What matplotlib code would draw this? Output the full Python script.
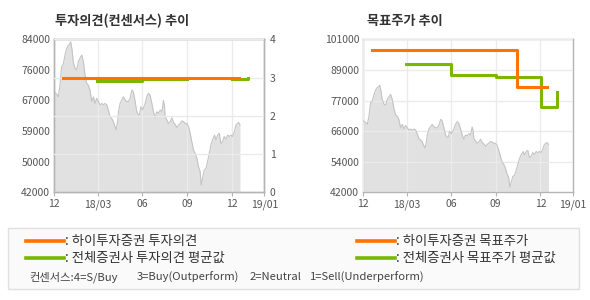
import numpy as np
import matplotlib
matplotlib.use('Agg')
import matplotlib.pyplot as plt
from matplotlib.lines import Line2D
from matplotlib.patches import Rectangle

plt.rcParams['font.family'] = ['Noto Sans CJK KR', 'DejaVu Sans']

W, H = 590, 300
ORANGE = '#ff7300'
GREEN = '#7ab800'

# x values are months counted from 2017-12-01
price_month = [0.09, 0.25, 0.36, 0.47, 0.58, 0.69, 0.81, 0.92, 1.03, 1.10, 1.19, 1.28,
               1.36, 1.48, 1.59, 1.70, 1.81, 1.93, 2.04, 2.15, 2.26, 2.37, 2.48, 2.60,
               2.71, 2.82, 2.93, 3.04, 3.16, 3.27, 3.38, 3.49, 3.61, 3.71, 3.83, 3.94,
               4.05, 4.16, 4.23, 4.32, 4.39, 4.50, 4.61, 4.72, 4.84, 4.95, 5.06, 5.17,
               5.29, 5.39, 5.51, 5.62, 5.73, 5.80, 5.89, 6.02, 6.18, 6.29, 6.40, 6.51,
               6.63, 6.74, 6.85, 6.96, 7.07, 7.19, 7.30, 7.41, 7.48, 7.52, 7.64, 7.74,
               7.86, 7.97, 8.08, 8.19, 8.31, 8.42, 8.53, 8.64, 8.75, 8.87, 8.98, 9.09,
               9.20, 9.31, 9.42, 9.54, 9.65, 9.76, 9.87, 9.94, 10.03, 10.14, 10.26, 10.39,
               10.48, 10.59, 10.70, 10.83, 10.93, 11.04, 11.15, 11.26, 11.37, 11.48, 11.60,
               11.71, 11.82, 11.93, 12.04, 12.16, 12.27, 12.38, 12.44, 12.54]
price = [69600, 68900, 68200, 71400, 76500, 77100, 79700, 81500, 82400, 82600, 83300, 81100,
         77800, 76000, 75600, 77800, 78800, 79700, 77800, 74200, 71900, 71400, 70100, 66900,
         68200, 66400, 67800, 66900, 66000, 66400, 66000, 66400, 66000, 64600, 62700, 62300,
         61400, 60000, 59100, 60900, 64100, 66400, 67300, 68200, 67300, 66900, 66900, 67800,
         70100, 69600, 66900, 64100, 63200, 63200, 65500, 64600, 66400, 68200, 69200, 68700,
         66400, 64100, 62500, 64100, 63700, 64600, 64100, 67200, 65500, 62700, 61800, 60900,
         61400, 62500, 61200, 60700, 59700, 60500, 60900, 61600, 61400, 60900, 60900, 60000,
         58200, 55900, 53600, 52700, 51300, 49000, 47700, 44000, 45800, 48100, 48600, 50900,
         52700, 55000, 56400, 57700, 56400, 57700, 58200, 55400, 55900, 57300, 56600,
         57700, 57300, 57700, 57300, 58600, 60500, 60900, 61200, 60500]

x_ticks = [0.09, 3, 6, 9, 12, 14.17]
x_labels = ['12', '18/03', '06', '09', '12', '19/01']

opinion_price_labels = ['42000', '50000', '59000', '67000', '76000', '84000']
opinion_scale = [0, 1, 2, 3, 4]
target_labels = ['42000', '54000', '66000', '77000', '89000', '101000']

hi_opinion_month = [0.69, 12.46]
hi_opinion = [3.0, 3.0]
avg_opinion_month = [2.98, 5.98, 9.02, 12.0, 13.1]
avg_opinion = [2.91, 2.95, np.nan, 2.95, 3.0]

hi_target_month = [0.69, 10.41, 12.44]
hi_target = [97000, 82500, 82500]
avg_target_month = [2.98, 5.98, 8.98, 12.02, 13.1]
avg_target = [91500, 87200, 86500, 75000, 80500]


def style(ax):
    for s in ax.spines.values():
        s.set_color('#b4b4b4')
        s.set_linewidth(1)
    ax.tick_params(axis='x', length=3, color='#b4b4b4', labelsize=7.5,
                   labelcolor='#555555', pad=2)
    ax.tick_params(axis='y', length=0, labelsize=7.5, labelcolor='#555555', pad=3)
    ax.set_axisbelow(False)


def draw_price(ax, lo):
    ax.fill_between(price_month, price, lo, color='#e1e1e1', lw=0, zorder=1)
    ax.plot(price_month, price, color='#c4c4c4', lw=0.8, zorder=3)
    ax.set_xlim(x_ticks[0], x_ticks[-1])
    ax.set_xticks(x_ticks)
    ax.set_xticklabels(x_labels)


fig = plt.figure(figsize=(W / 100, H / 100), dpi=100)

# left: investment opinion
ax1 = fig.add_axes([54.3 / W, 1 - 192.3 / H, 210 / W, 153 / H])
draw_price(ax1, 42000)
ax1.set_ylim(42000, 84000)
ax1.set_yticks(np.linspace(42000, 84000, 6))
ax1.set_yticklabels(opinion_price_labels)
style(ax1)
ax1.grid(axis='x', color='#ebebeb', lw=1)

ax2 = ax1.twinx()
ax2.set_ylim(0, 4)
ax2.set_yticks(opinion_scale)
style(ax2)
ax2.tick_params(axis='y', pad=4)
ax2.grid(axis='y', color='#ebebeb', lw=1)
ax2.step(avg_opinion_month, avg_opinion, where='post', color=GREEN, lw=2.2, zorder=4)
ax2.plot(hi_opinion_month, hi_opinion, color=ORANGE, lw=2.2, zorder=5)

# right: target price
ax3 = fig.add_axes([363.3 / W, 1 - 192.3 / H, 209.4 / W, 153 / H])
draw_price(ax3, 42000)
ax3.set_ylim(42000, 101000)
ax3.set_yticks(np.linspace(42000, 101000, 6))
ax3.set_yticklabels(target_labels)
style(ax3)
ax3.grid(True, color='#ebebeb', lw=1)
ax3.step(avg_target_month, avg_target, where='post', color=GREEN, lw=2.2, zorder=4)
ax3.step(hi_target_month, hi_target, where='post', color=ORANGE, lw=2.2, zorder=5)

fig.text(55 / W, 1 - 21 / H, '투자의견(컨센서스) 추이', fontsize=9.5, fontweight='bold',
         color='#333333', va='center')
fig.text(367 / W, 1 - 21 / H, '목표주가 추이', fontsize=9.5, fontweight='bold',
         color='#333333', va='center')

# legend box
fig.add_artist(Rectangle((8 / W, 1 - 289 / H), 571 / W, 61 / H, transform=fig.transFigure,
                         fc='#fafafa', ec='#e0e0e0', lw=1))
legend_rows = [
    (26, 241, ORANGE, ': 하이투자증권 투자의견'),
    (26, 258, GREEN, ': 전체증권사 투자의견 평균값'),
    (357, 241, ORANGE, ': 하이투자증권 목표주가'),
    (357, 258, GREEN, ': 전체증권사 목표주가 평균값'),
]
for x0, y0, c, label in legend_rows:
    fig.add_artist(Line2D([x0 / W, (x0 + 38) / W], [1 - y0 / H] * 2,
                          transform=fig.transFigure, color=c, lw=2.6))
    fig.text((x0 + 39) / W, 1 - y0 / H, label, fontsize=9.6, color='#333333', va='center')

consensus = [(29, '컨센서스:4=S/Buy'), (137, '3=Buy(Outperform)'),
             (250, '2=Neutral'), (310, '1=Sell(Underperform)')]
for x0, label in consensus:
    fig.text(x0 / W, 1 - 277 / H, label, fontsize=8.1, color='#444444', va='center')

fig.savefig('out.png', dpi=100)
